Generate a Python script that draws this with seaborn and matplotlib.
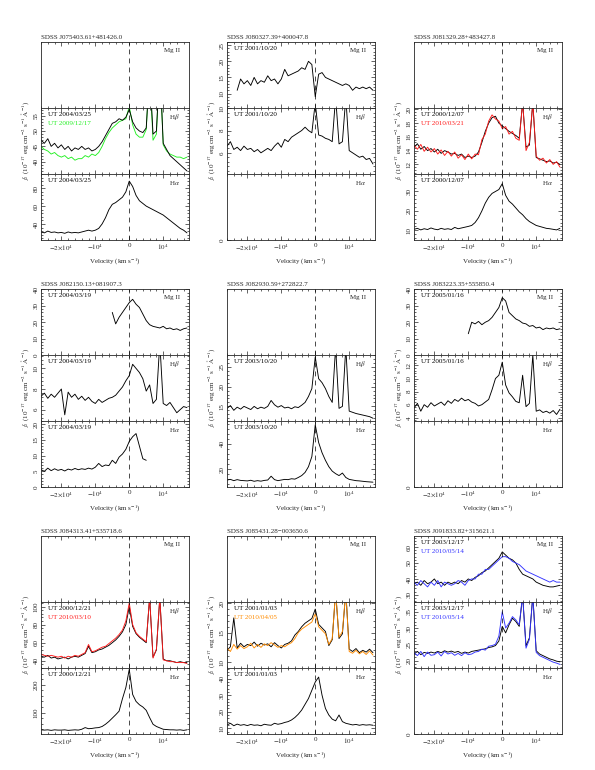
import numpy as np
import matplotlib
matplotlib.use('Agg')
import matplotlib.pyplot as plt
from matplotlib.ticker import MultipleLocator, AutoMinorLocator, FuncFormatter
import seaborn as sns

sns.set_style('ticks')
plt.rcParams['font.family'] = ['Liberation Serif', 'DejaVu Serif']
plt.rcParams['mathtext.fontset'] = 'stix'
plt.rcParams['font.size'] = 5
plt.rcParams['axes.linewidth'] = 0.6

# velocity grid (km/s), one sample every 1000 km/s
VEL_START = -26000
VEL_STEP = 1000

# ---- SDSS J075403.61+481426.0
j0754_hb_a = [47, 46, 47.5, 45, 46, 44.5, 45.5, 44, 45, 43.5, 44.5, 44,
              45, 44, 44.5, 43.5, 44, 45, 46.5, 48.5, 50.5, 52.5, 53, 54,
              53.5, 54.5, 57, 53, 51, 50, 49.5, 51, 70, 49, 50, 72,
              46, 44, 42, 41, 40, 39, 38, 37]
j0754_hb_b = [45, 44, 43.5, 42.5, 43, 42, 41.5, 42, 41, 41.5, 40.5, 41,
              41, 42, 41.5, 42.5, 42, 43, 45, 47.5, 49.5, 51, 52, 53,
              53.5, 54, 58, 52, 49, 48, 48, 50.5, 70, 47, 49, 72,
              45.5, 43.5, 42.5, 42, 41.5, 41.5, 41, 41.5]
j0754_ha_a = [31, 30, 32, 30.5, 31, 30, 30.5, 29.5, 31, 30, 30.5, 30,
              31, 32, 33, 32, 33, 35, 40, 47, 56, 62, 64, 67,
              70, 76, 88, 82, 72, 66, 63, 60, 58, 56, 54, 52,
              50, 47, 44, 41, 38, 35, 33, 30]

# ---- SDSS J080327.39+400047.8
j0803_mg_a = [11, 14.5, 13, 14, 12.5, 15, 13, 14, 13.5, 15.5, 14, 14.5,
              13, 14.5, 17.5, 15.5, 16, 16.5, 17, 18, 17.5, 20, 19, 9,
              16, 16.5, 15, 14.5, 14, 13.5, 13, 12.5, 13, 12.5, 11, 12,
              11.5, 12, 11.5, 12, 11]
j0803_hb_a = [6.6, 7.0, 6.3, 6.5, 6.2, 6.6, 6.3, 6.4, 6.1, 6.3, 6.0, 6.2,
              6.4, 6.2, 6.6, 6.9, 6.5, 7.2, 7.0, 7.4, 7.6, 7.8, 8.0, 8.3,
              8.0, 7.8, 10.5, 7.6, 7.5, 7.3, 7.2, 7.0, 11, 6.8, 7.0, 11,
              6.2, 6.0, 5.8, 5.6, 5.7, 5.4, 5.5, 5.0]

# ---- SDSS J081329.28+483427.8
j0813_hb_a = [14.5, 15.0, 14.2, 14.6, 14.0, 14.3, 13.8, 14.2, 13.6, 14.0, 13.8, 13.5,
              13.6, 13.3, 13.5, 13.0, 13.2, 13.0, 13.2, 13.8, 15.2, 16.8, 18.0, 18.8,
              19.0, 18.0, 17.6, 17.2, 16.8, 16.5, 16.2, 15.8, 21, 14.5, 14.8, 21,
              13.0, 12.8, 12.6, 12.4, 12.5, 12.2, 12.3, 12.0]
j0813_hb_b = [14.8, 14.2, 14.9, 13.9, 14.5, 13.8, 14.3, 13.5, 14.1, 13.3, 13.9, 13.2,
              13.8, 12.9, 13.4, 12.7, 13.5, 12.8, 13.5, 13.4, 15.6, 16.4, 18.3, 19.2,
              18.6, 18.3, 17.2, 17.5, 16.4, 16.8, 15.8, 15.5, 21, 14.0, 15.2, 21,
              13.2, 12.6, 12.9, 12.2, 12.7, 12.0, 12.4, 11.6]
j0813_ha_a = [10.5, 11.0, 10.2, 10.8, 10.4, 11.2, 10.6, 10.3, 11.0, 10.5, 10.8, 10.4,
              11.5, 10.8, 11.2, 11.6, 12.0, 12.5, 14.0, 16.5, 20.0, 24.0, 27.0, 29.0,
              30.0, 31.0, 34.0, 28.0, 25.0, 23.5, 21.5, 19.5, 18.0, 16.0, 14.5, 13.5,
              12.5, 12.0, 11.5, 11.0, 10.8, 10.5, 10.2, 11.0]

# ---- SDSS J082150.13+081907.3
j0821_mg_a = [26, 19, 23, 26, 29, 32, 34, 31, 29, 25, 21, 18.5,
              17.5, 17, 16.5, 17.5, 16, 16.5, 15.5, 16, 15, 16, 16.5]
j0821_hb_a = [7.3, 7.6, 7.1, 7.5, 7.2, 7.6, 8.0, 5.5, 7.7, 7.2, 7.5, 7.0,
              7.3, 6.9, 7.2, 6.8, 6.6, 7.0, 6.7, 6.9, 7.1, 7.2, 7.4, 7.8,
              8.2, 8.8, 9.3, 10.4, 10.0, 9.6, 9.0, 7.8, 8.4, 6.6, 7.0, 12.5,
              6.6, 6.4, 6.7, 6.2, 5.7, 6.0, 6.3, 6.2]
j0821_ha_a = [5.5, 5.0, 6.0, 5.2, 5.8, 5.3, 5.6, 5.1, 5.7, 5.4, 5.9, 5.5,
              5.8, 5.6, 6.0, 5.7, 6.3, 7.5, 6.5, 7.0, 6.8, 8.5, 7.5, 9.5,
              10.5, 12.0, 14.5, 16.0, 17.0, 13.0, 9.0, 8.5]

# ---- SDSS J082930.59+272822.7
j0829_hb_a = [14.5, 15.2, 14.0, 14.8, 14.3, 15.0, 14.6, 14.2, 15.0, 14.4, 14.8, 14.5,
              15.0, 16.5, 15.4, 14.8, 15.2, 14.6, 14.8, 14.4, 14.9, 14.7, 15.3, 16.0,
              17.5, 19.5, 27.5, 22.0, 21.0, 19.5, 17.5, 16.0, 30, 14.5, 15.0, 30,
              13.8, 13.5, 13.2, 13.0, 12.8, 12.6, 12.4, 12.0]
j0829_ha_a = [11.5, 12.0, 11.0, 11.8, 11.2, 11.0, 10.8, 11.3, 10.5, 11.0, 10.6, 11.2,
              11.5, 14.5, 11.8, 11.0, 11.5, 12.0, 11.8, 12.5, 12.2, 13.5, 15.0, 17.5,
              22.0, 30.0, 55.0, 41.0, 33.0, 27.0, 22.0, 18.5, 16.5, 15.0, 17.0, 13.5,
              12.0, 11.5, 11.0, 10.8, 10.5, 10.2, 10.0, 9.8]

# ---- SDSS J083223.35+555850.4
j0832_mg_a = [13, 20, 19, 20.5, 18.5, 20, 21, 23, 26, 29, 35, 33,
              26, 24, 22, 21, 19.5, 19, 17.5, 18, 16.5, 17, 15.5, 16.5,
              16, 16.5, 15.5, 16]
j0832_hb_a = [5.5, 6.2, 5.0, 6.0, 5.6, 6.3, 5.8, 6.1, 6.4, 5.9, 6.6, 6.2,
              6.8, 6.5, 7.0, 6.6, 6.8, 6.4, 6.2, 5.8, 6.0, 6.4, 6.8, 8.3,
              10.0, 10.5, 12.5, 9.0, 7.8, 7.2, 6.5, 6.3, 10.5, 5.7, 6.2, 13.6,
              5.0, 5.2, 4.8, 5.0, 4.7, 5.1, 4.5, 5.3]

# ---- SDSS J084313.41+535718.6
j0843_hb_a = [45, 44, 46, 43, 44, 42, 43, 44, 42, 44, 45, 44,
              46, 48, 56, 49, 50, 52, 53, 55, 57, 60, 63, 67,
              72, 80, 100, 78, 70, 66, 63, 60, 110, 44, 52, 110,
              42, 40, 40, 39, 38, 39, 38, 38]
j0843_hb_b = [47, 46, 45, 46, 45, 44, 45, 43, 45, 44, 46, 45,
              47, 49, 58, 50, 51, 53, 55, 56, 59, 62, 65, 69,
              74, 84, 104, 80, 71, 67, 64, 61, 110, 43, 53, 110,
              41, 40, 39, 39, 38, 38, 38, 37]
j0843_ha_a = [38, 37, 38, 36, 38, 37, 37, 38, 36, 37, 38, 37,
              40, 46, 42, 43, 45, 46, 50, 58, 68, 80, 92, 105,
              150, 190, 255, 165, 140, 128, 120, 108, 82, 58, 50, 45,
              40, 39, 38, 38, 37, 38, 36, 38]

# ---- SDSS J085431.28-003650.6
j0854_hb_a = [12.0, 12.6, 17.5, 12.4, 13.2, 12.6, 13.0, 12.8, 13.4, 12.7, 13.2, 12.9,
              13.1, 12.6, 13.3, 12.8, 12.4, 13.0, 13.2, 13.6, 14.6, 15.2, 16.0, 16.6,
              17.0, 17.4, 19.0, 16.4, 15.8, 15.2, 12.8, 13.8, 22, 14.0, 14.8, 22,
              12.2, 11.8, 12.3, 11.6, 12.0, 11.7, 12.2, 11.6]
j0854_hb_b = [12.4, 11.8, 13.0, 12.2, 12.8, 12.3, 12.6, 13.2, 12.4, 13.0, 12.5, 13.1,
              12.8, 13.3, 12.9, 12.5, 12.8, 12.6, 13.0, 13.3, 14.0, 15.0, 15.6, 16.0,
              16.4, 16.8, 18.2, 16.0, 15.4, 14.8, 13.0, 14.0, 22, 14.2, 15.2, 22,
              11.8, 11.5, 12.0, 11.4, 11.8, 11.3, 11.9, 11.2]
j0854_ha_a = [12.0, 13.0, 11.5, 12.5, 11.8, 12.2, 11.6, 12.3, 11.8, 12.0, 11.5, 12.4,
              12.0, 11.8, 13.0, 12.4, 12.8, 13.5, 14.0, 15.0, 16.5, 18.5, 21.0, 24.5,
              28.0, 33.0, 38.0, 41.0, 30.0, 22.0, 18.0, 15.5, 14.5, 18.0, 14.0, 13.0,
              12.5, 12.0, 12.3, 11.8, 12.2, 11.9, 12.1, 11.8]

# ---- SDSS J091833.82+315621.1
j0918_mg_a = [37, 38, 36, 39, 37, 38, 40, 37, 38, 36, 38, 37,
              38, 37, 39, 38, 40, 39, 41, 42, 44, 45, 47, 49,
              51, 53, 57, 55, 53, 52, 50, 46, 43, 42, 41, 40,
              38, 37, 36, 35.5, 35, 35, 35.5, 36]
j0918_mg_b = [38, 36, 39, 37, 35, 38, 36, 39, 35, 38, 37, 36,
              37, 39, 38, 36, 39, 40, 40, 43, 43, 46, 46, 48,
              50, 52, 54, 54, 53, 51, 50, 49, 47, 45, 44, 43,
              42, 41, 40, 39, 38, 39, 38, 38]
j0918_hb_a = [22.0, 22.8, 21.8, 22.5, 22.2, 22.6, 22.3, 22.8, 22.4, 23.0, 22.6, 22.9,
              22.5, 22.8, 22.2, 22.6, 22.3, 22.8, 23.0, 23.2, 23.4, 23.6, 24.0, 24.2,
              24.6, 26.0, 30.5, 28.5, 31.0, 33.0, 32.0, 30.5, 40, 24.5, 27.0, 40,
              23.0, 22.0, 21.5, 21.0, 20.5, 20.2, 19.8, 19.6]
j0918_hb_b = [22.5, 21.5, 22.8, 21.2, 22.6, 21.6, 21.8, 22.6, 21.4, 22.8, 22.0, 22.4,
              21.6, 22.2, 21.5, 22.4, 21.8, 22.0, 22.6, 22.8, 23.5, 23.2, 24.4, 24.6,
              25.0, 27.5, 35.0, 30.0, 31.5, 33.5, 32.5, 31.0, 40, 23.8, 26.5, 40,
              22.5, 21.5, 21.0, 20.5, 20.0, 19.5, 19.2, 18.8]

GREEN, RED, ORANGE, BLUE = '#22f022', '#ff1a1a', '#ff8c00', '#3333ff'

# each group: title, then panels Mg II / Hbeta / Halpha
# panel: None = empty without labels, 'zero' = empty with a 0 tick
groups = [
    ('SDSS J075403.61+481426.0', [
        None,
        dict(lines=[(VEL_START, j0754_hb_b, GREEN), (VEL_START, j0754_hb_a, 'k')],
             ylim=(36, 57.5), step=5, dates=[('UT 2004/03/25', 'k'), ('UT 2009/12/17', GREEN)]),
        dict(lines=[(VEL_START, j0754_ha_a, 'k')], ylim=(22, 96), step=20,
             dates=[('UT 2004/03/25', 'k')]),
    ]),
    ('SDSS J080327.39+400047.8', [
        dict(lines=[(-23000, j0803_mg_a, 'k')], ylim=(5.5, 26), step=5,
             dates=[('UT 2001/10/20', 'k')]),
        dict(lines=[(VEL_START, j0803_hb_a, 'k')], ylim=(4.1, 10.02), step=2,
             dates=[('UT 2001/10/20', 'k')]),
        'zero',
    ]),
    ('SDSS J081329.28+483427.8', [
        None,
        dict(lines=[(VEL_START, j0813_hb_a, 'k'), (VEL_START, j0813_hb_b, RED)],
             ylim=(10.6, 20.2), step=2, dates=[('UT 2000/12/07', 'k'), ('UT 2010/03/21', RED)]),
        dict(lines=[(VEL_START, j0813_ha_a, 'k')], ylim=(5, 39), step=10,
             dates=[('UT 2000/12/07', 'k')]),
    ]),
    ('SDSS J082150.13+081907.3', [
        dict(lines=[(-5000, j0821_mg_a, 'k')], ylim=(0, 40.3), step=10,
             dates=[('UT 2004/03/19', 'k')]),
        dict(lines=[(VEL_START, j0821_hb_a, 'k')], ylim=(4.9, 11.3), step=2,
             dates=[('UT 2004/03/19', 'k')]),
        dict(lines=[(VEL_START, j0821_ha_a, 'k')], ylim=(0, 21), step=5,
             dates=[('UT 2004/03/19', 'k')]),
    ]),
    ('SDSS J082930.59+272822.7', [
        None,
        dict(lines=[(VEL_START, j0829_hb_a, 'k')], ylim=(11.3, 28), step=5,
             dates=[('UT 2003/10/20', 'k')]),
        dict(lines=[(VEL_START, j0829_ha_a, 'k')], ylim=(6, 58), step=20,
             dates=[('UT 2003/10/20', 'k')]),
    ]),
    ('SDSS J083223.35+555850.4', [
        dict(lines=[(-10000, j0832_mg_a, 'k')], ylim=(0, 40.3), step=10,
             dates=[('UT 2005/01/16', 'k')]),
        dict(lines=[(VEL_START, j0832_hb_a, 'k')], ylim=(3.5, 13.6), step=2,
             dates=[('UT 2005/01/16', 'k')]),
        'zero',
    ]),
    ('SDSS J084313.41+535718.6', [
        None,
        dict(lines=[(VEL_START, j0843_hb_a, 'k'), (VEL_START, j0843_hb_b, RED)],
             ylim=(32, 105), step=20, dates=[('UT 2000/12/21', 'k'), ('UT 2010/03/10', RED)]),
        dict(lines=[(VEL_START, j0843_ha_a, 'k')], ylim=(23, 260), step=100,
             dates=[('UT 2000/12/21', 'k')]),
    ]),
    ('SDSS J085431.28\u2212003650.6', [
        None,
        dict(lines=[(VEL_START, j0854_hb_a, 'k'), (VEL_START, j0854_hb_b, ORANGE)],
             ylim=(9, 20.2), step=5, dates=[('UT 2001/01/03', 'k'), ('UT 2010/04/05', ORANGE)]),
        dict(lines=[(VEL_START, j0854_ha_a, 'k')], ylim=(6.5, 46.5), step=10,
             dates=[('UT 2001/01/03', 'k')]),
    ]),
    ('SDSS J091833.82+315621.1', [
        dict(lines=[(VEL_START, j0918_mg_a, 'k'), (VEL_START, j0918_mg_b, BLUE)],
             ylim=(25.5, 67), step=10, dates=[('UT 2003/12/17', 'k'), ('UT 2010/05/14', BLUE)]),
        dict(lines=[(VEL_START, j0918_hb_a, 'k'), (VEL_START, j0918_hb_b, BLUE)],
             ylim=(17.7, 38), step=5, dates=[('UT 2003/12/17', 'k'), ('UT 2010/05/14', BLUE)]),
        'zero',
    ]),
]

line_names = ['Mg II', r'H$\beta$', r'H$\alpha$']


def vel_fmt(v, pos):
    labels = {-20000: r'$-2{\times}10^4$', -10000: r'$-10^4$', 0: '0', 10000: r'$10^4$'}
    return labels.get(int(round(v)), '')


W, H = 595, 770
fig = plt.figure(figsize=(W / 100, H / 100), dpi=100)
col_x = [41, 227, 414]
row_top = [42, 289, 536]
pw, ph = 148, 66

for g, (title, panels) in enumerate(groups):
    x0 = col_x[g % 3]
    y0 = row_top[g // 3]
    for k, p in enumerate(panels):
        ax = fig.add_axes([x0 / W, 1 - (y0 + ph * (k + 1)) / H, pw / W, ph / H])
        if isinstance(p, dict):
            for vstart, flux, color in p['lines']:
                vel = vstart + VEL_STEP * np.arange(len(flux))
                sns.lineplot(x=vel, y=flux, ax=ax, color=color, lw=0.65,
                             estimator=None, sort=False, legend=False)
            ax.set_ylim(*p['ylim'])
            ax.yaxis.set_major_locator(MultipleLocator(p['step']))
            ax.yaxis.set_minor_locator(AutoMinorLocator(5))
            for d, (txt, c) in enumerate(p['dates']):
                ax.text(0.05, 0.9 - 0.13 * d, txt, color=c, transform=ax.transAxes,
                        ha='left', va='center')
        elif p == 'zero':
            ax.set_ylim(0, 1)
            ax.set_yticks([0])
        else:
            ax.set_yticks([])
        ax.set_xlim(-26000, 17600)
        ax.axvline(0, color='k', lw=0.5, ls=(0, (7, 6)))
        ax.xaxis.set_major_locator(MultipleLocator(10000))
        ax.xaxis.set_minor_locator(MultipleLocator(2000))
        ax.xaxis.set_major_formatter(FuncFormatter(vel_fmt))
        ax.tick_params(which='both', direction='in', top=True, right=True, width=0.5, pad=2)
        ax.tick_params(which='major', length=3)
        ax.tick_params(which='minor', length=1.5)
        ax.tick_params(axis='x', labelbottom=(k == 2))
        ax.tick_params(axis='y', labelrotation=90, pad=1.5)
        for t in ax.get_yticklabels():
            t.set_va('center')
        ax.text(0.94, 0.87, line_names[k], transform=ax.transAxes, ha='right', va='center')
        ax.set_xlabel('')
        ax.set_ylabel('')
        if k == 0:
            ax.set_title(title, loc='left', pad=2, fontsize=5)
        if k == 1:
            ax.set_ylabel(r'$f_\lambda$ (10$^{-17}$ erg cm$^{-2}$ s$^{-1}$ $\mathrm{\AA}^{-1}$)',
                          labelpad=2)
        if k == 2:
            ax.set_xlabel(r'Velocity (km s$^{-1}$)', labelpad=3)

fig.savefig('out.png', dpi=100)
